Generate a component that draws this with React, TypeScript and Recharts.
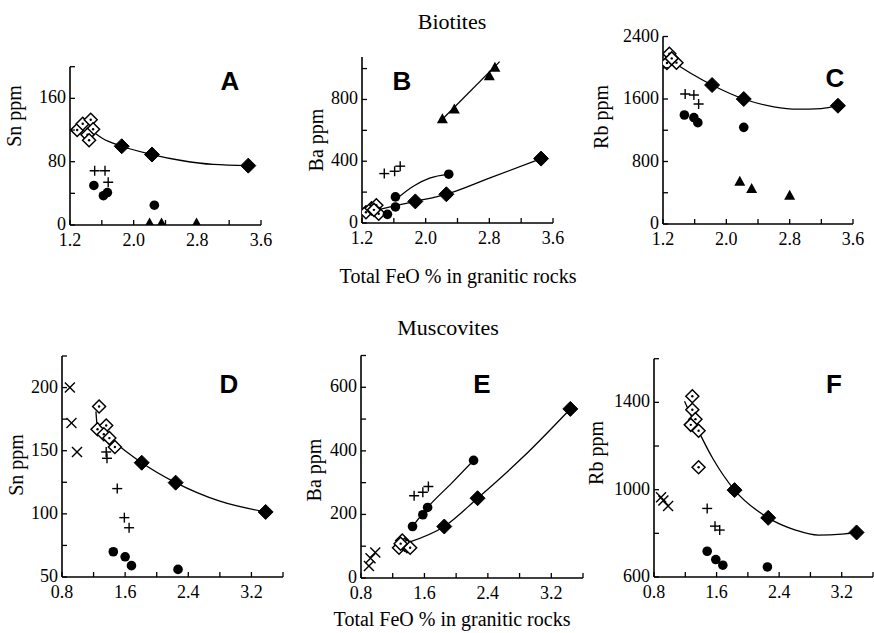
import React from 'react';
import { ScatterChart, Scatter, XAxis, YAxis } from 'recharts';

type P = { x: number; y: number };

// ---------- Panel A (Biotites, Sn) ----------
const aOpenDiamond: P[] = [{ x: 1.29, y: 120 }, { x: 1.36, y: 128 }, { x: 1.46, y: 133 }, { x: 1.49, y: 121 }, { x: 1.42, y: 114 }, { x: 1.44, y: 107 }];
const aDiamond: P[] = [{ x: 1.85, y: 99.5 }, { x: 2.23, y: 89 }, { x: 3.44, y: 75 }];
const aPlus: P[] = [{ x: 1.51, y: 68.6 }, { x: 1.64, y: 68.6 }, { x: 1.68, y: 54 }];
const aCircle: P[] = [{ x: 1.5, y: 50 }, { x: 1.62, y: 37 }, { x: 1.67, y: 41 }, { x: 2.26, y: 25 }];
const aTriangle: P[] = [{ x: 2.2, y: 2 }, { x: 2.35, y: 2 }, { x: 2.79, y: 2 }];
const aCurve: P[] = [{ x: 1.45, y: 121 }, { x: 1.6, y: 110 }, { x: 1.85, y: 99.5 }, { x: 2.23, y: 89 }, { x: 2.6, y: 81.5 }, { x: 3.0, y: 76.5 }, { x: 3.44, y: 75 }];

// ---------- Panel B (Biotites, Ba) ----------
const bOpenDiamond: P[] = [{ x: 1.25, y: 70 }, { x: 1.32, y: 95 }, { x: 1.38, y: 115 }, { x: 1.41, y: 60 }, { x: 1.35, y: 85 }];
const bCircle: P[] = [{ x: 1.52, y: 56 }, { x: 1.62, y: 104 }, { x: 1.62, y: 169 }, { x: 2.29, y: 316 }];
const bDiamond: P[] = [{ x: 1.87, y: 140 }, { x: 2.26, y: 186 }, { x: 3.45, y: 417 }];
const bPlus: P[] = [{ x: 1.48, y: 320 }, { x: 1.61, y: 335 }, { x: 1.68, y: 368 }];
const bTriangle: P[] = [{ x: 2.21, y: 672 }, { x: 2.36, y: 735 }, { x: 2.8, y: 951 }, { x: 2.87, y: 1005 }];
const bDiamondCurve: P[] = [{ x: 1.37, y: 82 }, { x: 1.62, y: 112 }, { x: 1.87, y: 140 }, { x: 2.26, y: 186 }, { x: 2.8, y: 290 }, { x: 3.45, y: 417 }];
const bCircleCurve: P[] = [{ x: 1.63, y: 155 }, { x: 1.85, y: 240 }, { x: 2.05, y: 290 }, { x: 2.29, y: 316 }];
const bTriangleLine: P[] = [{ x: 2.21, y: 672 }, { x: 2.93, y: 1045 }];

// ---------- Panel C (Biotites, Rb) ----------
const cOpenDiamond: P[] = [{ x: 1.28, y: 2180 }, { x: 1.25, y: 2060 }, { x: 1.37, y: 2065 }, { x: 1.31, y: 2120 }];
const cDiamond: P[] = [{ x: 1.82, y: 1779 }, { x: 2.22, y: 1600 }, { x: 3.41, y: 1514 }];
const cPlus: P[] = [{ x: 1.48, y: 1664 }, { x: 1.59, y: 1651 }, { x: 1.65, y: 1536 }];
const cCircle: P[] = [{ x: 1.47, y: 1395 }, { x: 1.59, y: 1361 }, { x: 1.64, y: 1297 }, { x: 2.22, y: 1237 }];
const cTriangle: P[] = [{ x: 2.17, y: 542 }, { x: 2.32, y: 448 }, { x: 2.8, y: 363 }];
const cCurve: P[] = [{ x: 1.33, y: 2070 }, { x: 1.55, y: 1930 }, { x: 1.82, y: 1779 }, { x: 2.22, y: 1600 }, { x: 2.6, y: 1500 }, { x: 2.9, y: 1470 }, { x: 3.2, y: 1478 }, { x: 3.41, y: 1514 }];

// ---------- Panel D (Muscovites, Sn) ----------
const dCross: P[] = [{ x: 0.9, y: 200 }, { x: 0.92, y: 172 }, { x: 0.99, y: 149 }];
const dOpenDiamond: P[] = [{ x: 1.27, y: 185 }, { x: 1.25, y: 167 }, { x: 1.36, y: 170 }, { x: 1.33, y: 163 }, { x: 1.4, y: 160 }, { x: 1.47, y: 153 }];
const dDiamond: P[] = [{ x: 1.81, y: 140.5 }, { x: 2.24, y: 124.7 }, { x: 3.38, y: 101.5 }];
const dPlus: P[] = [{ x: 1.36, y: 149 }, { x: 1.37, y: 144 }, { x: 1.5, y: 120 }, { x: 1.59, y: 97 }, { x: 1.65, y: 89 }];
const dCircle: P[] = [{ x: 1.45, y: 70 }, { x: 1.6, y: 66 }, { x: 1.68, y: 59 }, { x: 2.27, y: 56 }];
const dCurve: P[] = [{ x: 1.23, y: 181 }, { x: 1.25, y: 168 }, { x: 1.4, y: 160 }, { x: 1.6, y: 150 }, { x: 1.81, y: 140.5 }, { x: 2.24, y: 124.7 }, { x: 2.8, y: 110 }, { x: 3.38, y: 101.5 }];

// ---------- Panel E (Muscovites, Ba) ----------
const eCross: P[] = [{ x: 0.9, y: 38 }, { x: 0.92, y: 62 }, { x: 0.98, y: 80 }];
const eOpenDiamond: P[] = [{ x: 1.28, y: 95 }, { x: 1.32, y: 118 }, { x: 1.35, y: 105 }, { x: 1.38, y: 100 }, { x: 1.42, y: 95 }, { x: 1.3, y: 108 }];
const eCircle: P[] = [{ x: 1.45, y: 162 }, { x: 1.58, y: 199 }, { x: 1.64, y: 222 }, { x: 2.22, y: 370 }];
const eDiamond: P[] = [{ x: 1.85, y: 162 }, { x: 2.27, y: 251 }, { x: 3.44, y: 532 }];
const ePlus: P[] = [{ x: 1.47, y: 259 }, { x: 1.58, y: 270 }, { x: 1.65, y: 288 }];
const eCircleCurve: P[] = [{ x: 1.45, y: 162 }, { x: 1.64, y: 222 }, { x: 1.95, y: 300 }, { x: 2.22, y: 370 }];
const eDiamondCurve: P[] = [{ x: 1.4, y: 112 }, { x: 1.85, y: 162 }, { x: 2.27, y: 251 }, { x: 2.85, y: 382 }, { x: 3.44, y: 532 }];

// ---------- Panel F (Muscovites, Rb) ----------
const fCross: P[] = [{ x: 0.89, y: 965 }, { x: 0.92, y: 950 }, { x: 0.98, y: 925 }];
const fOpenDiamond: P[] = [{ x: 1.29, y: 1428 }, { x: 1.29, y: 1366 }, { x: 1.33, y: 1323 }, { x: 1.27, y: 1297 }, { x: 1.37, y: 1270 }, { x: 1.37, y: 1103 }];
const fDiamond: P[] = [{ x: 1.83, y: 998 }, { x: 2.26, y: 871 }, { x: 3.39, y: 804 }];
const fPlus: P[] = [{ x: 1.48, y: 914 }, { x: 1.58, y: 833 }, { x: 1.64, y: 815 }];
const fCircle: P[] = [{ x: 1.48, y: 718 }, { x: 1.59, y: 680 }, { x: 1.68, y: 654 }, { x: 2.25, y: 646 }];
const fCurve: P[] = [{ x: 1.19, y: 1405 }, { x: 1.34, y: 1290 }, { x: 1.55, y: 1144 }, { x: 1.83, y: 998 }, { x: 2.26, y: 871 }, { x: 2.61, y: 815 }, { x: 2.9, y: 792 }, { x: 3.2, y: 796 }, { x: 3.39, y: 804 }];

// ---------- Axis ticks and labels ----------
const topXTicks = [1.2, 1.6, 2.0, 2.4, 2.8, 3.2, 3.6];
const topXLabels = ['1.2', '', '2.0', '', '2.8', '', '3.6'];
const botXTicks = [0.8, 1.2, 1.6, 2.0, 2.4, 2.8, 3.2, 3.6];
const botXLabels = ['0.8', '', '1.6', '', '2.4', '', '3.2', ''];
const aYTicks = [0, 40, 80, 120, 160, 200];
const aYLabels = ['0', '', '80', '', '160', ''];
const bYTicks = [0, 200, 400, 600, 800, 1000];
const bYLabels = ['0', '', '400', '', '800', ''];
const cYTicks = [0, 400, 800, 1200, 1600, 2000, 2400];
const cYLabels = ['0', '', '800', '', '1600', '', '2400'];
const dYTicks = [50, 75, 100, 125, 150, 175, 200, 225];
const dYLabels = ['50', '', '100', '', '150', '', '200', ''];
const eYTicks = [0, 100, 200, 300, 400, 500, 600, 700];
const eYLabels = ['0', '', '200', '', '400', '', '600', ''];
const fYTicks = [600, 800, 1000, 1200, 1400, 1600];
const fYLabels = ['600', '', '1000', '', '1400', ''];

const W = 874;
const H = 633;
const SERIF = "'Liberation Serif', 'Times New Roman', serif";
const SANS = "'Liberation Sans', Arial, sans-serif";

// ---------- Marker shapes ----------
const Empty = () => <g />;
const OpenDiamond = (p: any) => {
  const { cx, cy } = p;
  const s = 6.5;
  return (
    <g>
      <polygon points={`${cx},${cy - s} ${cx + s},${cy} ${cx},${cy + s} ${cx - s},${cy}`} fill="#fff" stroke="#000" strokeWidth={1.5} />
      <circle cx={cx} cy={cy} r={1.2} fill="#000" />
    </g>
  );
};
const FilledDiamond = (p: any) => {
  const { cx, cy } = p;
  const s = 7.5;
  return <polygon points={`${cx},${cy - s} ${cx + s},${cy} ${cx},${cy + s} ${cx - s},${cy}`} fill="#000" stroke="#000" strokeWidth={1} />;
};
const Dot = (p: any) => <circle cx={p.cx} cy={p.cy} r={4.8} fill="#000" />;
const Plus = (p: any) => {
  const { cx, cy } = p;
  const s = 5;
  return (
    <g stroke="#000" strokeWidth={1.4}>
      <line x1={cx - s} y1={cy} x2={cx + s} y2={cy} />
      <line x1={cx} y1={cy - s} x2={cx} y2={cy + s} />
    </g>
  );
};
const Cross = (p: any) => {
  const { cx, cy } = p;
  const s = 5;
  return (
    <g stroke="#000" strokeWidth={1.4}>
      <line x1={cx - s} y1={cy - s} x2={cx + s} y2={cy + s} />
      <line x1={cx - s} y1={cy + s} x2={cx + s} y2={cy - s} />
    </g>
  );
};
const Triangle = (p: any) => {
  const { cx, cy } = p;
  return <polygon points={`${cx},${cy - 6} ${cx + 5.5},${cy + 4} ${cx - 5.5},${cy + 4}`} fill="#000" />;
};

const shapes: Record<string, any> = {
  open: OpenDiamond,
  diamond: FilledDiamond,
  circle: Dot,
  plus: Plus,
  cross: Cross,
  triangle: Triangle,
};

const findIdx = (ticks: number[], v: number) => ticks.findIndex((t) => Math.abs(t - v) < 1e-9);

const makeXTick = (ticks: number[], labels: string[]) => (props: any) => {
  const { x, y, payload } = props;
  const i = findIdx(ticks, payload.value);
  const lab = i >= 0 ? labels[i] : '';
  return (
    <g>
      <line x1={x} y1={y} x2={x} y2={y - 5} stroke="#000" strokeWidth={1.3} />
      {lab ? (
        <text x={x} y={y + 21} textAnchor="middle" fontFamily={SERIF} fontSize={18} fill="#000">
          {lab}
        </text>
      ) : null}
    </g>
  );
};

const makeYTick = (ticks: number[], labels: string[]) => (props: any) => {
  const { x, y, payload } = props;
  const i = findIdx(ticks, payload.value);
  const lab = i >= 0 ? labels[i] : '';
  return (
    <g>
      <line x1={x} y1={y} x2={x + 5} y2={y} stroke="#000" strokeWidth={1.3} />
      {lab ? (
        <text x={x - 4} y={y + 5} textAnchor="end" fontFamily={SERIF} fontSize={18} fill="#000">
          {lab}
        </text>
      ) : null}
    </g>
  );
};

type Geom = { left: number; right: number; top: number; bottom: number };
type SeriesDef = { data: P[]; kind: string };

function Panel(props: {
  geom: Geom;
  xDomain: [number, number];
  xTicks: number[];
  xLabels: string[];
  yDomain: [number, number];
  yTicks: number[];
  yLabels: string[];
  curves: P[][];
  series: SeriesDef[];
}) {
  const { geom, xDomain, xTicks, xLabels, yDomain, yTicks, yLabels, curves, series } = props;
  const YW = 50;
  const XH = 30;
  const margin = { left: geom.left - YW, top: geom.top, right: W - geom.right, bottom: H - geom.bottom - XH };
  return (
    <div style={{ position: 'absolute', left: 0, top: 0, width: W, height: H }}>
      <ScatterChart width={W} height={H} margin={margin}>
        <XAxis
          type="number"
          dataKey="x"
          domain={xDomain}
          ticks={xTicks}
          interval={0}
          allowDataOverflow
          height={XH}
          tickSize={0}
          tickMargin={0}
          tickLine={false}
          axisLine={{ stroke: '#000', strokeWidth: 1.6 }}
          tick={makeXTick(xTicks, xLabels)}
        />
        <YAxis
          type="number"
          dataKey="y"
          domain={yDomain}
          ticks={yTicks}
          interval={0}
          allowDataOverflow
          width={YW}
          tickSize={0}
          tickMargin={0}
          tickLine={false}
          axisLine={{ stroke: '#000', strokeWidth: 1.6 }}
          tick={makeYTick(yTicks, yLabels)}
        />
        {curves.map((c, i) => (
          <Scatter
            key={'curve' + i}
            data={c}
            fill="#000"
            line={{ stroke: '#000', strokeWidth: 1.3 }}
            lineJointType="monotoneX"
            shape={Empty}
            isAnimationActive={false}
          />
        ))}
        {series.map((s, i) => (
          <Scatter key={'s' + i} data={s.data} fill="#000" shape={shapes[s.kind]} isAnimationActive={false} />
        ))}
      </ScatterChart>
    </div>
  );
}

const yLabelStyle = { fontFamily: SERIF, fontSize: 20, fill: '#000' } as const;

export default function App() {
  return (
    <div style={{ position: 'absolute', left: 0, top: 0, width: W, height: H, background: '#fff', overflow: 'hidden' }}>
      <Panel
        geom={{ left: 70, right: 261, top: 66.7, bottom: 225 }}
        xDomain={[1.2, 3.6]}
        xTicks={topXTicks}
        xLabels={topXLabels}
        yDomain={[0, 200]}
        yTicks={aYTicks}
        yLabels={aYLabels}
        curves={[aCurve]}
        series={[
          { data: aOpenDiamond, kind: 'open' },
          { data: aDiamond, kind: 'diamond' },
          { data: aPlus, kind: 'plus' },
          { data: aCircle, kind: 'circle' },
          { data: aTriangle, kind: 'triangle' },
        ]}
      />
      <Panel
        geom={{ left: 362, right: 553, top: 57, bottom: 223 }}
        xDomain={[1.2, 3.6]}
        xTicks={topXTicks}
        xLabels={topXLabels}
        yDomain={[0, 1075]}
        yTicks={bYTicks}
        yLabels={bYLabels}
        curves={[bDiamondCurve, bCircleCurve, bTriangleLine]}
        series={[
          { data: bOpenDiamond, kind: 'open' },
          { data: bDiamond, kind: 'diamond' },
          { data: bPlus, kind: 'plus' },
          { data: bCircle, kind: 'circle' },
          { data: bTriangle, kind: 'triangle' },
        ]}
      />
      <Panel
        geom={{ left: 663, right: 853, top: 36.5, bottom: 224 }}
        xDomain={[1.2, 3.6]}
        xTicks={topXTicks}
        xLabels={topXLabels}
        yDomain={[0, 2400]}
        yTicks={cYTicks}
        yLabels={cYLabels}
        curves={[cCurve]}
        series={[
          { data: cOpenDiamond, kind: 'open' },
          { data: cDiamond, kind: 'diamond' },
          { data: cPlus, kind: 'plus' },
          { data: cCircle, kind: 'circle' },
          { data: cTriangle, kind: 'triangle' },
        ]}
      />
      <Panel
        geom={{ left: 62, right: 283, top: 356, bottom: 577 }}
        xDomain={[0.8, 3.6]}
        xTicks={botXTicks}
        xLabels={botXLabels}
        yDomain={[50, 225]}
        yTicks={dYTicks}
        yLabels={dYLabels}
        curves={[dCurve]}
        series={[
          { data: dCross, kind: 'cross' },
          { data: dOpenDiamond, kind: 'open' },
          { data: dDiamond, kind: 'diamond' },
          { data: dPlus, kind: 'plus' },
          { data: dCircle, kind: 'circle' },
        ]}
      />
      <Panel
        geom={{ left: 361, right: 583, top: 355.5, bottom: 578 }}
        xDomain={[0.8, 3.6]}
        xTicks={botXTicks}
        xLabels={botXLabels}
        yDomain={[0, 700]}
        yTicks={eYTicks}
        yLabels={eYLabels}
        curves={[eCircleCurve, eDiamondCurve]}
        series={[
          { data: eCross, kind: 'cross' },
          { data: eOpenDiamond, kind: 'open' },
          { data: eDiamond, kind: 'diamond' },
          { data: ePlus, kind: 'plus' },
          { data: eCircle, kind: 'circle' },
        ]}
      />
      <Panel
        geom={{ left: 654, right: 873, top: 358.7, bottom: 577 }}
        xDomain={[0.8, 3.6]}
        xTicks={botXTicks}
        xLabels={botXLabels}
        yDomain={[600, 1600]}
        yTicks={fYTicks}
        yLabels={fYLabels}
        curves={[fCurve]}
        series={[
          { data: fCross, kind: 'cross' },
          { data: fOpenDiamond, kind: 'open' },
          { data: fDiamond, kind: 'diamond' },
          { data: fPlus, kind: 'plus' },
          { data: fCircle, kind: 'circle' },
        ]}
      />
      <svg width={W} height={H} style={{ position: 'absolute', left: 0, top: 0, pointerEvents: 'none' }}>
        <text x={452} y={29} textAnchor="middle" fontFamily={SERIF} fontSize={22} fill="#000">Biotites</text>
        <text x={448} y={335} textAnchor="middle" fontFamily={SERIF} fontSize={22} fill="#000">Muscovites</text>
        <text x={458} y={283} textAnchor="middle" fontFamily={SERIF} fontSize={20} fill="#000">Total FeO % in granitic rocks</text>
        <text x={452} y={626} textAnchor="middle" fontFamily={SERIF} fontSize={20} fill="#000">Total FeO % in granitic rocks</text>

        <text transform="translate(21,116) rotate(-90)" textAnchor="middle" {...yLabelStyle}>Sn ppm</text>
        <text transform="translate(323,140) rotate(-90)" textAnchor="middle" {...yLabelStyle}>Ba ppm</text>
        <text transform="translate(608,117) rotate(-90)" textAnchor="middle" {...yLabelStyle}>Rb ppm</text>
        <text transform="translate(23,465) rotate(-90)" textAnchor="middle" {...yLabelStyle}>Sn ppm</text>
        <text transform="translate(321,470) rotate(-90)" textAnchor="middle" {...yLabelStyle}>Ba ppm</text>
        <text transform="translate(603,453) rotate(-90)" textAnchor="middle" {...yLabelStyle}>Rb ppm</text>

        <text x={230} y={90} textAnchor="middle" fontFamily={SANS} fontWeight="bold" fontSize={26} fill="#000">A</text>
        <text x={402} y={90} textAnchor="middle" fontFamily={SANS} fontWeight="bold" fontSize={26} fill="#000">B</text>
        <text x={835} y={87} textAnchor="middle" fontFamily={SANS} fontWeight="bold" fontSize={26} fill="#000">C</text>
        <text x={229} y={393} textAnchor="middle" fontFamily={SANS} fontWeight="bold" fontSize={26} fill="#000">D</text>
        <text x={482} y={393} textAnchor="middle" fontFamily={SANS} fontWeight="bold" fontSize={26} fill="#000">E</text>
        <text x={834} y={393} textAnchor="middle" fontFamily={SANS} fontWeight="bold" fontSize={26} fill="#000">F</text>
      </svg>
    </div>
  );
}
